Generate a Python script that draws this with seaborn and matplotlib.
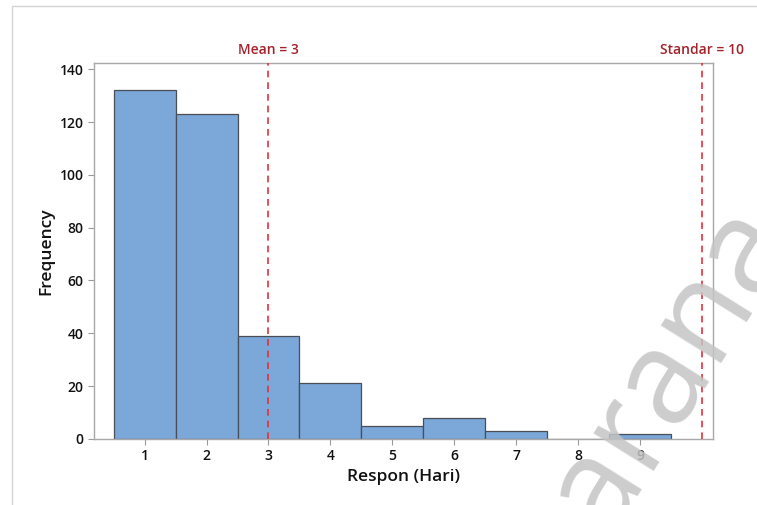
import numpy as np
import pandas as pd
import seaborn as sns
import matplotlib.pyplot as plt
from matplotlib.patches import Rectangle

# Data
respon = [1, 2, 3, 4, 5, 6, 7, 8, 9]
frekuensi = [132, 123, 39, 21, 5, 8, 3, 0, 2]
mean_value = 3
standar_value = 10

df = pd.DataFrame({'respon': respon, 'frekuensi': frekuensi})

sns.set_style('white')
plt.rcParams['font.family'] = ['Open Sans', 'DejaVu Sans']

fig = plt.figure(figsize=(7.57, 5.05), dpi=100)
ax = fig.add_axes([0.124, 0.131, 0.818, 0.744])

# Histogram with unit bins centred on integers
sns.histplot(data=df, x='respon', weights='frekuensi', discrete=True,
             color='#7ba7d9', edgecolor='#4a4f57', linewidth=0.9, alpha=1, ax=ax)

# Reference lines
for val, label in [(mean_value, 'Mean = 3'), (standar_value, 'Standar = 10')]:
    ax.axvline(val, color='#e3313c', linestyle=(0, (4, 3)), linewidth=1.2, zorder=3)
    ax.text(val, 1.015, label, transform=ax.get_xaxis_transform(), ha='center', va='bottom',
            color='#a3222c', fontsize=10, fontweight='semibold')

ax.set_xlim(0.18, 10.18)
ax.set_ylim(0, 142.3)
ax.set_xticks(respon)
ax.set_yticks(range(0, 141, 20))
ax.set_xlabel('Respon (Hari)', fontsize=12.5, color='#111111', fontweight='semibold')
ax.set_ylabel('Frequency', fontsize=12.5, color='#111111', fontweight='semibold')
ax.tick_params(axis='both', length=4, width=0.8, color='#9a9a9a', labelsize=10,
               labelcolor='#111111', direction='out', bottom=True, left=True)
for lbl in ax.get_xticklabels() + ax.get_yticklabels():
    lbl.set_fontweight('semibold')
for s in ax.spines.values():
    s.set_color('#a8a8a8')
    s.set_linewidth(1)

# Screenshot border
fig.add_artist(Rectangle((12 / 757, -0.1), 1.1, 1 - 6 / 505 + 0.1, transform=fig.transFigure,
                         fill=False, edgecolor='#d4d4d4', linewidth=1))

# Watermark
fig.text(0.865, 0.22, 'sarana', rotation=58, fontsize=95, color='#c4c4c4', alpha=0.85,
         ha='center', va='center', zorder=10)

fig.savefig('out.png', dpi=100)
